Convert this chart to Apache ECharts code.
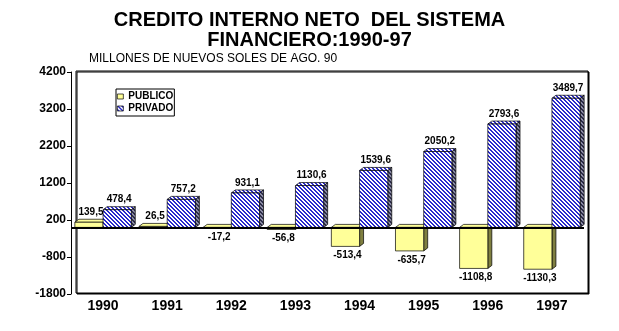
<!DOCTYPE html>
<html>
<head>
<meta charset="utf-8">
<script src="https://cdn.jsdelivr.net/npm/echarts@6/dist/echarts.min.js"></script>
<style>
  html, body { margin: 0; padding: 0; background: #fff; }
  #chart { width: 619px; height: 331px; }
</style>
</head>
<body>
<div id="chart"></div>
<script>
// Crédito interno neto del sistema financiero, 1990-97 (millones de nuevos soles de ago. 90)
const years = ['1990', '1991', '1992', '1993', '1994', '1995', '1996', '1997'];
const publico = [139.5, 26.5, -17.2, -56.8, -513.4, -635.7, -1108.8, -1130.3];
const privado = [478.4, 757.2, 931.1, 1130.6, 1539.6, 2050.2, 2793.6, 3489.7];
const yTicks = [-1800, -800, 200, 1200, 2200, 3200, 4200];
const seriesNames = ['PUBLICO', 'PRIVADO'];

// Diagonal hatch tile ("\" direction) used for the PRIVADO faces
function hatch(fg, bg) {
  const c = document.createElement('canvas');
  c.width = 4; c.height = 4;
  const g = c.getContext('2d');
  g.fillStyle = bg; g.fillRect(0, 0, 4, 4);
  g.fillStyle = fg;
  for (let y = 0; y < 4; y++) {
    for (let x = 0; x < 4; x++) {
      if ((((x - y) % 4) + 4) % 4 < 2) g.fillRect(x, y, 1, 1);
    }
  }
  return { image: c, repeat: 'repeat' };
}

const faces = {
  PUBLICO: { front: '#ffff99', side: '#7f7f40', top: '#ffff99' },
  PRIVADO: { front: hatch('#2a2acc', '#ffffff'), side: hatch('#2c2c48', '#8c8ca4'), top: hatch('#2a2acc', '#ffffff') }
};

const DX = 4, DY = -3;   // oblique depth of each column
const fmt = v => v.toFixed(1).replace('.', ',');

// Draws one column as front, side and top faces plus its value label
function column(name, leftOfCenter) {
  const f = faces[name];
  return function (params, api) {
    const i = api.value(0), v = api.value(1);
    const base = api.coord([i, 0]);
    const tip = api.coord([i, v]);
    const band = api.size([1, 0])[0];
    const w = band * 0.44;
    const x = leftOfCenter ? base[0] - w : base[0];
    const yTop = Math.min(base[1], tip[1]);
    const yBot = Math.max(base[1], tip[1]);
    const line = { stroke: '#000', lineWidth: 0.7 };
    return {
      type: 'group',
      children: [
        { type: 'polygon', shape: { points: [[x + w, yTop], [x + w + DX, yTop + DY], [x + w + DX, yBot + DY], [x + w, yBot]] },
          style: Object.assign({ fill: f.side }, line) },
        { type: 'polygon', shape: { points: [[x, yTop], [x + DX, yTop + DY], [x + w + DX, yTop + DY], [x + w, yTop]] },
          style: Object.assign({ fill: f.top }, line) },
        { type: 'rect', shape: { x: x, y: yTop, width: w, height: yBot - yTop },
          style: Object.assign({ fill: f.front }, line) },
        { type: 'text', z2: 10,
          style: { text: fmt(v), x: x + w / 2 + DX / 2, y: v >= 0 ? yTop - 10 : yBot + 9,
                   align: 'center', verticalAlign: 'middle',
                   font: 'bold 10px "Liberation Sans", Arial, sans-serif', fill: '#000' } }
      ]
    };
  };
}

const chart = echarts.init(document.getElementById('chart'), null, { renderer: 'canvas' });
chart.setOption({
  animation: false,
  backgroundColor: '#fff',
  textStyle: { fontFamily: '"Liberation Sans", Arial, sans-serif' },
  title: [
    { text: 'CREDITO INTERNO NETO  DEL SISTEMA', left: 'center', top: 10, padding: 0,
      textStyle: { fontSize: 20, fontWeight: 'bold', color: '#000', lineHeight: 20 } },
    { text: 'FINANCIERO:1990-97', left: 'center', top: 30, padding: 0,
      textStyle: { fontSize: 20, fontWeight: 'bold', color: '#000', lineHeight: 20 } },
    { text: 'MILLONES DE NUEVOS SOLES DE AGO. 90', left: 89, top: 53, padding: 0,
      textStyle: { fontSize: 12, fontWeight: 'normal', color: '#000', lineHeight: 12 } }
  ],
  legend: {
    orient: 'vertical', left: 116, top: 89,
    itemWidth: 6, itemHeight: 5, itemGap: 1,
    padding: [2, 1, 2, 1],
    borderColor: '#000', borderWidth: 1, backgroundColor: '#fff',
    textStyle: { fontSize: 10, fontWeight: 'bold', color: '#000', lineHeight: 11 },
    data: [
      { name: seriesNames[0], icon: 'rect', itemStyle: { color: faces.PUBLICO.front, borderColor: '#000', borderWidth: 0.7 } },
      { name: seriesNames[1], icon: 'rect', itemStyle: { color: faces.PRIVADO.front, borderColor: '#000', borderWidth: 0.7 } }
    ]
  },
  grid: [
    { left: 71, right: 35, top: 72, bottom: 37 },
    { left: 76, right: 31, top: 71, bottom: 38, show: true, z: 0,
      backgroundColor: '#fff', borderColor: '#000', borderWidth: 1,
      shadowColor: '#000', shadowOffsetX: 1, shadowOffsetY: 1, shadowBlur: 0 }
  ],
  xAxis: [
    { type: 'category', data: years, gridIndex: 0,
      axisLine: { show: false }, axisTick: { show: false },
      axisLabel: { fontSize: 14, fontWeight: 'bold', color: '#000', margin: 5 } },
    { type: 'category', data: years, gridIndex: 1, show: false }
  ],
  yAxis: [
    { type: 'value', gridIndex: 0, min: -1800, max: 4200,
      axisLine: { show: true, lineStyle: { color: '#000', width: 1 } },
      axisTick: { show: true, length: 4, customValues: yTicks, lineStyle: { color: '#000' } },
      axisLabel: { customValues: yTicks, formatter: v => String(v), fontSize: 12, fontWeight: 'bold', color: '#000', margin: 5 },
      splitLine: { show: false } },
    { type: 'value', gridIndex: 1, min: -1800, max: 4200, show: false, splitLine: { show: false } }
  ],
  series: [
    { name: seriesNames[0], type: 'custom', xAxisIndex: 0, yAxisIndex: 0,
      itemStyle: { color: faces.PUBLICO.front },
      renderItem: column('PUBLICO', true),
      data: publico.map((v, i) => [i, v]) },
    { name: seriesNames[1], type: 'custom', xAxisIndex: 0, yAxisIndex: 0,
      itemStyle: { color: '#2a2acc' },
      renderItem: column('PRIVADO', false),
      data: privado.map((v, i) => [i, v]),
      markLine: { silent: true, symbol: 'none', label: { show: false },
                  lineStyle: { color: '#000', width: 2, type: 'solid' },
                  data: [{ yAxis: 0 }] } }
  ]
});
</script>
</body>
</html>
